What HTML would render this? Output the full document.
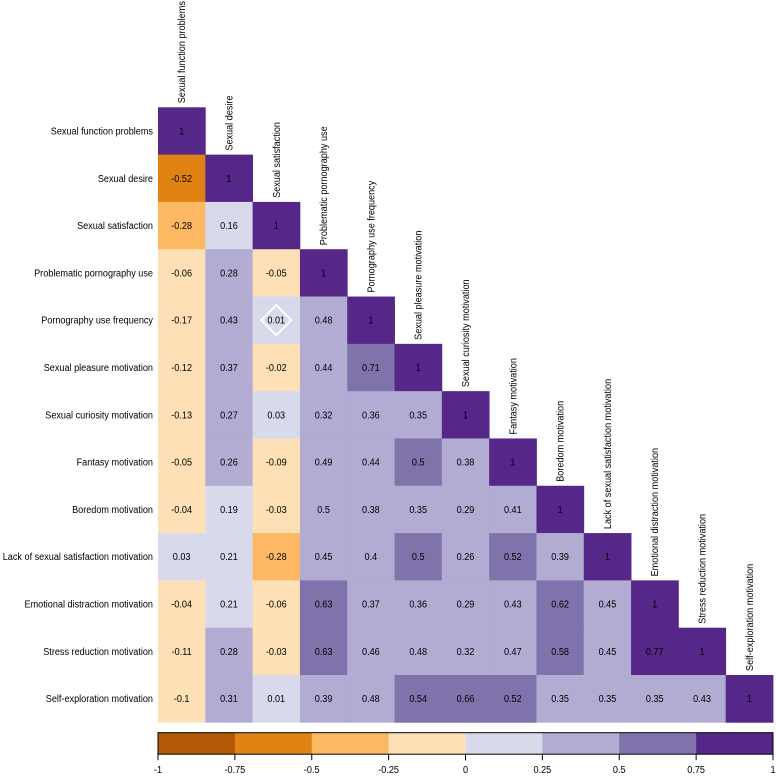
<!DOCTYPE html>
<html><head><meta charset="utf-8"><style>
html,body{margin:0;padding:0;background:#fff;width:776px;height:776px;overflow:hidden}
svg{display:block;font-family:"Liberation Sans",sans-serif}
</style></head><body>
<svg id="chart" width="776" height="776" viewBox="0 0 776 776"></svg>
<script>
const labels = ["Sexual function problems","Sexual desire","Sexual satisfaction","Problematic pornography use","Pornography use frequency","Sexual pleasure motivation","Sexual curiosity motivation","Fantasy motivation","Boredom motivation","Lack of sexual satisfaction motivation","Emotional distraction motivation","Stress reduction motivation","Self-exploration motivation"];
const corr = [
[1],
[-0.52,1],
[-0.28,0.16,1],
[-0.06,0.28,-0.05,1],
[-0.17,0.43,0.01,0.48,1],
[-0.12,0.37,-0.02,0.44,0.71,1],
[-0.13,0.27,0.03,0.32,0.36,0.35,1],
[-0.05,0.26,-0.09,0.49,0.44,0.502,0.38,1],
[-0.04,0.19,-0.03,0.498,0.38,0.35,0.29,0.41,1],
[0.03,0.21,-0.28,0.45,0.4,0.502,0.26,0.52,0.39,1],
[-0.04,0.21,-0.06,0.63,0.37,0.36,0.29,0.43,0.62,0.45,1],
[-0.11,0.28,-0.03,0.63,0.46,0.48,0.32,0.47,0.58,0.45,0.77,1],
[-0.1,0.31,0.01,0.39,0.48,0.54,0.66,0.52,0.35,0.35,0.35,0.43,1]
];
const marked = [[4,2]];
const binEdges = [-1,-0.75,-0.5,-0.25,0,0.25,0.5,0.75,1];
const tickLabels = ["-1","-0.75","-0.5","-0.25","0","0.25","0.5","0.75","1"];
const palette = ["#b35806","#e08214","#fdb863","#fee0b6","#d8daeb","#b2abd2","#8073ac","#542788"];

const svg = document.getElementById('chart');
const NS = 'http://www.w3.org/2000/svg';
const X0 = 158, Y0 = 107.3, W = 615, N = labels.length, C = W / N;
const SQ = 0.91;
function cx(j){ return X0 + j * C; }
function cy(i){ return Y0 + i * C; }
function color(v){
  for (let k = 0; k < palette.length; k++) if (v <= binEdges[k+1]) return palette[k];
  return palette[palette.length-1];
}
function mk(tag, attrs){ const e = document.createElementNS(NS, tag); for (const k in attrs) e.setAttribute(k, attrs[k]); return e; }
function squeeze(t){
  const L = t.getComputedTextLength();
  if (L > 0) { t.setAttribute('textLength', (L * SQ).toFixed(2)); t.setAttribute('lengthAdjust', 'spacingAndGlyphs'); }
}

corr.forEach((row, i) => {
  row.forEach((v, j) => {
    const r = mk('rect', {x: cx(j), y: cy(i), width: C + 0.4, height: C + 0.4, fill: color(v)});
    
    
    svg.appendChild(r);
  });
});
marked.forEach(([i, j]) => {
  const mx = cx(j) + C/2, my = cy(i) + C/2, s = 15;
  const d = mk('polygon', {points: `${mx},${my-s} ${mx+s},${my} ${mx},${my+s} ${mx-s},${my}`, fill: 'none', stroke: '#fff', 'stroke-width': 2});
  
  
  svg.appendChild(d);
});
corr.forEach((row, i) => {
  row.forEach((v, j) => {
    const t = mk('text', {x: cx(j) + C/2, y: cy(i) + C/2 + 3.5, 'text-anchor': 'middle', 'font-size': 10, fill: '#000'});
    t.textContent = String(Math.round(v * 100) / 100);
    
    
    svg.appendChild(t);
    squeeze(t);
  });
});
labels.forEach((lab, i) => {
  const t = mk('text', {x: 153, y: cy(i) + C/2 + 3.5, 'text-anchor': 'end', 'font-size': 10, fill: '#000'});
  t.textContent = lab;
  
  
  svg.appendChild(t);
  squeeze(t);
  const x = cx(i) + C/2 + 3.5, y = cy(i) - 4;
  const h = mk('text', {x: x, y: y, 'font-size': 10, fill: '#000', transform: `rotate(-90 ${x} ${y})`});
  h.textContent = lab;
  
  
  svg.appendChild(h);
  squeeze(h);
});
// colorbar
const BY = 732.7, BH = 21.5;
function bx(v){ return X0 + (v + 1) / 2 * W; }
palette.forEach((c, k) => {
  const r = mk('rect', {x: bx(binEdges[k]), y: BY, width: bx(binEdges[k+1]) - bx(binEdges[k]) + 0.3, height: BH, fill: c});
  
  
  svg.appendChild(r);
});
const frame = mk('rect', {x: X0, y: BY, width: W, height: BH, fill: 'none', stroke: '#000', 'stroke-width': 1});


svg.appendChild(frame);
binEdges.forEach((v, k) => {
  const l = mk('line', {x1: bx(v), x2: bx(v), y1: BY + BH, y2: BY + BH + 6, stroke: '#000', 'stroke-width': 1});
  
  
  svg.appendChild(l);
  const t = mk('text', {x: bx(v), y: 773, 'text-anchor': 'middle', 'font-size': 10, fill: '#000'});
  t.textContent = tickLabels[k];
  
  
  svg.appendChild(t);
  squeeze(t);
});
</script>
</body></html>
